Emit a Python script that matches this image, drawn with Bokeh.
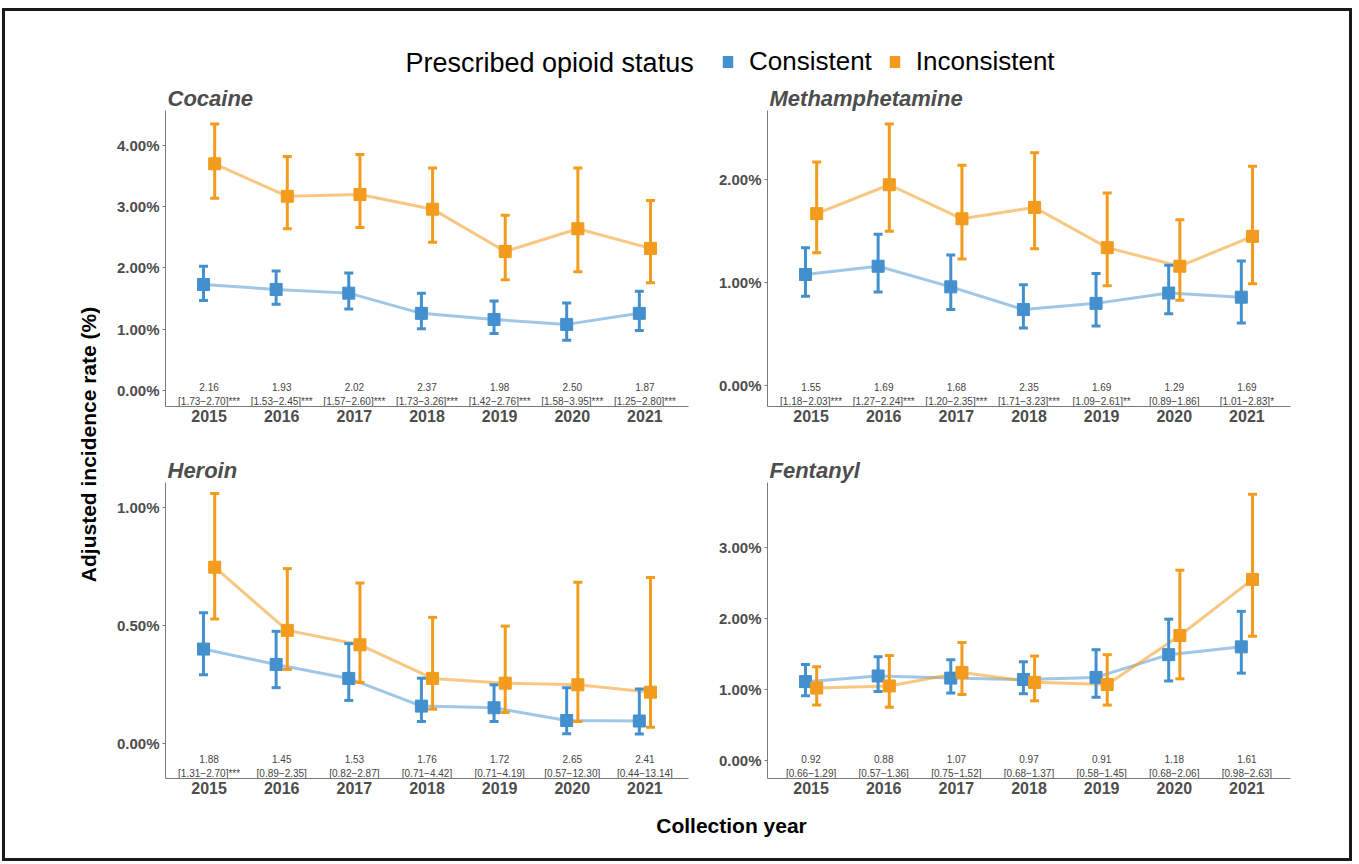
import math
from bokeh.plotting import figure
from bokeh.models import (Range1d, FixedTicker, PrintfTickFormatter, ColumnDataSource,
                          Legend, LegendItem, Label)
from bokeh.layouts import column, row
from bokeh.embed import file_html
from bokeh.resources import INLINE
from bokeh.core.properties import value
from bokeh.transform import dodge

# ---------------- data ----------------
years = [2015, 2016, 2017, 2018, 2019, 2020, 2021]

# Cocaine
coc_cons    = [1.73, 1.65, 1.59, 1.26, 1.16, 1.08, 1.26]
coc_cons_lo = [1.47, 1.41, 1.33, 1.01, 0.93, 0.82, 0.98]
coc_cons_hi = [2.03, 1.95, 1.92, 1.59, 1.46, 1.43, 1.62]
coc_inc     = [3.70, 3.17, 3.20, 2.96, 2.27, 2.64, 2.32]
coc_inc_lo  = [3.14, 2.64, 2.66, 2.42, 1.81, 1.94, 1.76]
coc_inc_hi  = [4.35, 3.82, 3.85, 3.63, 2.86, 3.63, 3.10]
coc_irr     = [2.16, 1.93, 2.02, 2.37, 1.98, 2.50, 1.87]
coc_irr_lo  = [1.73, 1.53, 1.57, 1.73, 1.42, 1.58, 1.25]
coc_irr_hi  = [2.70, 2.45, 2.60, 3.26, 2.76, 3.95, 2.80]
coc_sig     = ["***", "***", "***", "***", "***", "***", "***"]

# Methamphetamine
met_cons    = [1.08, 1.16, 0.96, 0.74, 0.80, 0.90, 0.86]
met_cons_lo = [0.87, 0.91, 0.74, 0.56, 0.58, 0.70, 0.61]
met_cons_hi = [1.34, 1.47, 1.27, 0.98, 1.09, 1.17, 1.21]
met_inc     = [1.67, 1.95, 1.62, 1.73, 1.34, 1.16, 1.45]
met_inc_lo  = [1.29, 1.50, 1.23, 1.33, 0.97, 0.83, 0.99]
met_inc_hi  = [2.17, 2.54, 2.14, 2.26, 1.87, 1.61, 2.13]
met_irr     = [1.55, 1.69, 1.68, 2.35, 1.69, 1.29, 1.69]
met_irr_lo  = [1.18, 1.27, 1.20, 1.71, 1.09, 0.89, 1.01]
met_irr_hi  = [2.03, 2.24, 2.35, 3.23, 2.61, 1.86, 2.83]
met_sig     = ["***", "***", "***", "***", "**", "", "*"]

# Heroin
her_cons    = [0.400, 0.335, 0.276, 0.159, 0.152, 0.098, 0.096]
her_cons_lo = [0.292, 0.237, 0.183, 0.094, 0.094, 0.042, 0.041]
her_cons_hi = [0.554, 0.475, 0.423, 0.277, 0.249, 0.237, 0.231]
her_inc     = [0.746, 0.479, 0.418, 0.276, 0.256, 0.249, 0.218]
her_inc_lo  = [0.527, 0.314, 0.259, 0.146, 0.132, 0.094, 0.070]
her_inc_hi  = [1.057, 0.740, 0.679, 0.534, 0.497, 0.682, 0.703]
her_irr     = [1.88, 1.45, 1.53, 1.76, 1.72, 2.65, 2.41]
her_irr_lo  = [1.31, 0.89, 0.82, 0.71, 0.71, 0.57, 0.44]
her_irr_hi  = [2.70, 2.35, 2.87, 4.42, 4.19, 12.30, 13.14]
her_sig     = ["***", "", "", "", "", "", ""]

# Fentanyl
fen_cons    = [1.11, 1.19, 1.16, 1.14, 1.17, 1.49, 1.60]
fen_cons_lo = [0.91, 0.97, 0.95, 0.94, 0.89, 1.12, 1.23]
fen_cons_hi = [1.35, 1.46, 1.42, 1.39, 1.56, 1.99, 2.10]
fen_inc     = [1.02, 1.05, 1.24, 1.10, 1.07, 1.76, 2.55]
fen_inc_lo  = [0.78, 0.75, 0.93, 0.84, 0.78, 1.15, 1.75]
fen_inc_hi  = [1.32, 1.48, 1.66, 1.47, 1.49, 2.68, 3.75]
fen_irr     = [0.92, 0.88, 1.07, 0.97, 0.91, 1.18, 1.61]
fen_irr_lo  = [0.66, 0.57, 0.75, 0.68, 0.58, 0.68, 0.98]
fen_irr_hi  = [1.29, 1.36, 1.52, 1.37, 1.45, 2.06, 2.63]
fen_sig     = ["", "", "", "", "", "", ""]

y_ticks = {
    "Cocaine": [0, 1, 2, 3, 4],
    "Methamphetamine": [0, 1, 2],
    "Heroin": [0, 0.5, 1.0],
    "Fentanyl": [0, 1, 2, 3],
}
y_limits = {
    "Cocaine": (-0.26, 4.57),
    "Methamphetamine": (-0.20, 2.67),
    "Heroin": (-0.147, 1.104),
    "Fentanyl": (-0.254, 3.915),
}

series_labels = ["Consistent", "Inconsistent"]
legend_title = "Prescribed opioid status"
x_title = "Collection year"
y_title = "Adjusted incidence rate (%)"

# ---------------- style ----------------
FONT = "Liberation Sans"
BLUE = "#4490CE"
ORANGE = "#F29B1D"
TXT = "#4D4D4D"
AXIS = "#7A7A7A"
DODGE = 0.077


def make_panel(name, cons, cons_lo, cons_hi, inc, inc_lo, inc_hi, irr, irr_lo, irr_hi, sig,
               bl, br, bt, bb):
    p = figure(frame_width=523, frame_height=296,
               x_range=Range1d(2014.4, 2021.6),
               y_range=Range1d(*y_limits[name]),
               output_backend="svg", toolbar_location=None,
               min_border_left=bl, min_border_right=br,
               min_border_top=bt, min_border_bottom=bb)
    p.title.text = name
    p.title.text_font = FONT
    p.title.text_font_size = "22px"
    p.title.text_font_style = "bold italic"
    p.title.text_color = TXT
    p.title.align = "left"
    p.title.offset = 2
    p.title.standoff = 0
    p.outline_line_color = None
    p.grid.visible = False
    p.background_fill_color = "white"
    p.border_fill_color = "white"

    src = ColumnDataSource(dict(year=years, cons=cons, cons_lo=cons_lo, cons_hi=cons_hi,
                                inc=inc, inc_lo=inc_lo, inc_hi=inc_hi))
    xb = dodge("year", -DODGE, range=p.x_range)
    xo = dodge("year", DODGE, range=p.x_range)

    # connecting lines
    p.line(x=xb, y="cons", source=src, line_color=BLUE, line_alpha=0.5, line_width=3)
    p.line(x=xo, y="inc", source=src, line_color=ORANGE, line_alpha=0.55, line_width=3)

    # error bars
    for xx, lo, hi, col in [(xb, "cons_lo", "cons_hi", BLUE), (xo, "inc_lo", "inc_hi", ORANGE)]:
        p.segment(x0=xx, x1=xx, y0=lo, y1=hi, source=src, line_color=col, line_width=3)
        p.scatter(x=xx, y=lo, source=src, marker="dash", size=9, line_color=col, line_width=3)
        p.scatter(x=xx, y=hi, source=src, marker="dash", size=9, line_color=col, line_width=3)

    # points
    p.scatter(x=xb, y="cons", source=src, marker="square", size=12,
              fill_color=BLUE, line_color=BLUE)
    p.scatter(x=xo, y="inc", source=src, marker="square", size=12,
              fill_color=ORANGE, line_color=ORANGE)

    # IRR annotations at bottom of panel
    y0 = y_limits[name][0]
    lab1 = ["%.2f" % v for v in irr]
    lab2 = ["[%.2f\u2212%.2f]%s" % (a, b, s) for a, b, s in zip(irr_lo, irr_hi, sig)]
    asrc = ColumnDataSource(dict(year=years, yb=[y0] * len(years), l1=lab1, l2=lab2))
    for col, off in [("l1", -20), ("l2", -5)]:
        p.text(x="year", y="yb", text=col, source=asrc, y_offset=off,
               text_font=value(FONT), text_font_size=value("10px"),
               text_color="#444444", text_align="center", text_baseline="middle")

    # axes
    p.xaxis.ticker = FixedTicker(ticks=years)
    p.xaxis.major_label_text_font = FONT
    p.xaxis.major_label_text_font_size = "16px"
    p.xaxis.major_label_text_font_style = "bold"
    p.xaxis.major_label_text_color = TXT
    p.xaxis.major_tick_out = 0
    p.xaxis.major_tick_in = 0
    p.xaxis.minor_tick_out = 0
    p.xaxis.minor_tick_in = 0
    p.xaxis.major_label_standoff = 3
    p.xaxis.axis_line_color = AXIS

    p.yaxis.ticker = FixedTicker(ticks=y_ticks[name])
    p.yaxis.formatter = PrintfTickFormatter(format="%.2f%%")
    p.yaxis.major_label_text_font = FONT
    p.yaxis.major_label_text_font_size = "15px"
    p.yaxis.major_label_text_font_style = "bold"
    p.yaxis.major_label_text_color = TXT
    p.yaxis.major_tick_out = 3
    p.yaxis.major_tick_in = 0
    p.yaxis.minor_tick_out = 0
    p.yaxis.minor_tick_in = 0
    p.yaxis.major_tick_line_color = AXIS
    p.yaxis.major_label_standoff = 3
    p.yaxis.axis_line_color = AXIS
    return p


p_coc = make_panel("Cocaine", coc_cons, coc_cons_lo, coc_cons_hi, coc_inc, coc_inc_lo, coc_inc_hi,
                   coc_irr, coc_irr_lo, coc_irr_hi, coc_sig, 65, 12, 32, 30)
p_met = make_panel("Methamphetamine", met_cons, met_cons_lo, met_cons_hi, met_inc, met_inc_lo, met_inc_hi,
                   met_irr, met_irr_lo, met_irr_hi, met_sig, 67, 59, 32, 30)
p_her = make_panel("Heroin", her_cons, her_cons_lo, her_cons_hi, her_inc, her_inc_lo, her_inc_hi,
                   her_irr, her_irr_lo, her_irr_hi, her_sig, 65, 12, 46, 28)
p_fen = make_panel("Fentanyl", fen_cons, fen_cons_lo, fen_cons_hi, fen_inc, fen_inc_lo, fen_inc_hi,
                   fen_irr, fen_irr_lo, fen_irr_hi, fen_sig, 67, 59, 46, 28)


def blank(w, h):
    f = figure(width=w, height=h, x_range=Range1d(0, w), y_range=Range1d(0, h),
               output_backend="svg", toolbar_location=None,
               x_axis_location=None, y_axis_location=None, min_border=0)
    f.grid.visible = False
    f.outline_line_color = None
    f.border_fill_color = "white"
    f.background_fill_color = "white"
    return f


W = 1344
# top strip with legend (key renderers sit outside the strip's visible range)
p_top = blank(W, 67)
key_src = ColumnDataSource(dict(l=[-30], r=[-20], t=[-20], b=[-30]))
rb = p_top.quad(left="l", right="r", top="t", bottom="b", source=key_src,
                fill_color=BLUE, line_color=None)
ro = p_top.quad(left="l", right="r", top="t", bottom="b", source=key_src,
                fill_color=ORANGE, line_color=None)
leg = Legend(items=[LegendItem(label=series_labels[0], renderers=[rb]),
                    LegendItem(label=series_labels[1], renderers=[ro])],
             orientation="horizontal", location=(716, 1),
             label_text_font=FONT, label_text_font_size="26px", label_text_color="black",
             glyph_width=13, glyph_height=15, label_standoff=15, spacing=16,
             padding=0, margin=0, border_line_color=None, background_fill_alpha=0,
             label_height=30)
p_top.add_layout(leg)
p_top.add_layout(Label(x=400, y=16, text=legend_title, text_font=FONT,
                       text_font_size="27px", text_baseline="middle", text_color="black"))

# y title strip
p_yl = blank(95, 728)
p_yl.add_layout(Label(x=83, y=362, text=y_title, angle=math.pi / 2, text_font=FONT,
                      text_font_size="21px", text_font_style="bold", text_color="black",
                      text_align="center", text_baseline="middle"))

# x title strip
p_bot = blank(W, 52)
p_bot.add_layout(Label(x=726, y=33, text=x_title, text_font=FONT,
                       text_font_size="21px", text_font_style="bold", text_color="black",
                       text_align="center", text_baseline="middle"))

mid = row(p_yl, column(p_coc, p_her), column(p_met, p_fen))
root = column(p_top, mid, p_bot,
              styles={"border": "3px solid #1a1a1a", "margin-left": "2px", "margin-top": "8px"})

open("out.html", "w").write(file_html(root, INLINE))
